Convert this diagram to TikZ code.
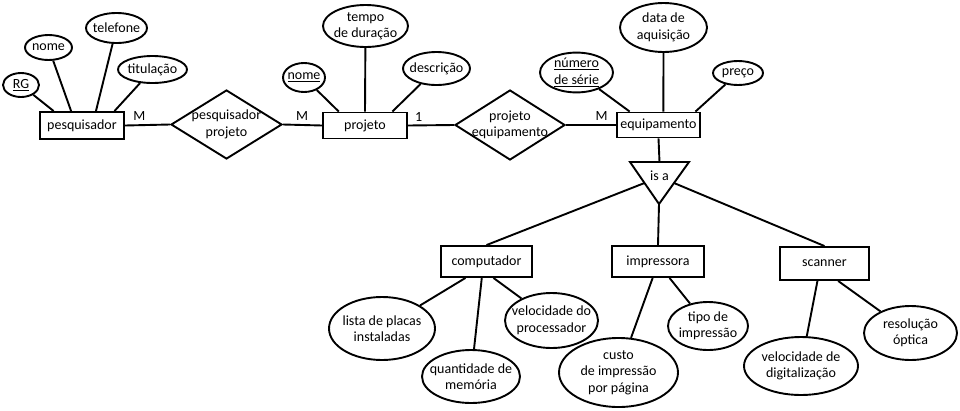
\documentclass[tikz,border=0pt]{standalone}
\usepackage{fontspec}
\setmainfont{Carlito}
\usetikzlibrary{shapes.geometric}

\begin{document}
\begin{tikzpicture}[x=1pt,y=-1pt,
  every node/.style={font=\fontsize{14}{16.5}\selectfont, align=center},
  entity/.style={draw, line width=1.9pt, rectangle, inner sep=0pt},
  attrib/.style={draw, line width=1.9pt, ellipse, inner xsep=-15pt, inner ysep=0pt},
  relation/.style={draw, line width=1.9pt, diamond, inner xsep=-20pt, inner ysep=-4pt,
    minimum width=111pt, minimum height=69pt},
  link/.style={line width=1.9pt}]

\useasboundingbox (0,0) rectangle (960,410);

% entidades
\node[entity, minimum width=84pt, minimum height=27pt] (pesquisador) at (82,125.5) {pesquisador};
\node[entity, minimum width=84pt, minimum height=26pt] (projeto) at (365,125.5) {projeto};
\node[entity, minimum width=83pt, minimum height=25pt] (equipamento) at (658.5,125) {equipamento};
\node[entity, minimum width=91pt, minimum height=31pt] (computador) at (486.5,261.5) {computador};
\node[entity, minimum width=92pt, minimum height=31pt] (impressora) at (658,261.5) {impressora};
\node[entity, minimum width=89pt, minimum height=33pt] (scanner) at (824.5,263.5) {scanner};

% relacionamentos
\node[relation] (pesqproj) at (226.5,124.5) {pesquisador\\projeto};
\node[relation, minimum width=110pt, minimum height=70pt] (projequip) at (510,125) {projeto\\equipamento};

% atributos
\node[attrib, minimum width=36pt, minimum height=24pt] (rg) at (21,85) {\underline{RG}};
\node[attrib, minimum width=47pt, minimum height=25pt] (nomepesq) at (48.5,47.5) {nome};
\node[attrib, minimum width=61pt, minimum height=30pt] (telefone) at (116.5,28) {telefone};
\node[attrib, minimum width=69pt, minimum height=27pt] (titulacao) at (152.5,69.5) {titulação};

\node[attrib, minimum width=42pt, minimum height=29pt] (nomeproj) at (304,77.5) {\underline{nome}};
\node[attrib, minimum width=85pt, minimum height=42pt] (tempo) at (365.5,26) {tempo\\de duração};
\node[attrib, minimum width=67pt, minimum height=33pt] (descricao) at (436.5,68.5) {descrição};

\node[attrib, minimum width=73pt, minimum height=39pt] (numero) at (576.5,72.5) {\underline{número}\\\underline{de série}};
\node[attrib, minimum width=87pt, minimum height=49pt] (data) at (663.5,27.5) {data de\\aquisição};
\node[attrib, minimum width=50pt, minimum height=24pt] (preco) at (738,73) {preço};

\node[attrib, minimum width=106pt, minimum height=63pt] (lista) at (382,328.5) {lista de placas\\instaladas};
\node[attrib, minimum width=98pt, minimum height=53pt] (memoria) at (471,376.5) {quantidade de\\memória};
\node[attrib, minimum width=93pt, minimum height=55pt] (velproc) at (551.5,320.5) {velocidade do\\processador};

\node[attrib, minimum width=119pt, minimum height=69pt] (custo) at (618.5,372.5) {custo\\de impressão\\por página};
\node[attrib, minimum width=80pt, minimum height=48pt] (tipo) at (708,326) {tipo de\\impressão};

\node[attrib, minimum width=114pt, minimum height=58pt] (veldig) at (801,366) {velocidade de\\digitalização};
\node[attrib, minimum width=93pt, minimum height=54pt] (resolucao) at (910.5,333) {resolução\\óptica};

% generalizacao
\coordinate (isaL) at (630,162);
\coordinate (isaR) at (689,162);
\coordinate (isaB) at (659,204);
\coordinate (isaT) at (659.5,162);
\coordinate (isaLm) at (644.5,183);
\coordinate (isaRm) at (674,183);
\draw[link, line join=miter] (isaL) -- (isaR) -- (isaB) -- cycle;
\node (isa) at (659.5,176) {is a};

% ligacoes
\draw[link] (pesquisador.east) -- node[pos=0.32, above] {M} (pesqproj.west);
\draw[link] (pesqproj.east) -- node[pos=0.49, above] {M} (projeto.west);
\draw[link] (projeto.east) -- node[pos=0.23, above] {1} (projequip.west);
\draw[link] (projequip.east) -- node[pos=0.71, above] {M} (equipamento.west);

\draw[link] (rg) -- (pesquisador.153);
\draw[link] (nomepesq) -- (pesquisador.127);
\draw[link] (telefone) -- (pesquisador.46);
\draw[link] (titulacao) -- (pesquisador.24);

\draw[link] (nomeproj) -- (projeto.152);
\draw[link] (tempo) -- (projeto.north);
\draw[link] (descricao) -- (projeto.27);

\draw[link] (numero) -- (equipamento.155);
\draw[link] (data) -- (equipamento.70);
\draw[link] (preco) -- (equipamento.20);

\draw[link] (equipamento.south) -- (isaT);
\draw[link] (isaLm) -- (computador.north);
\draw[link] (isaB) -- (impressora.north);
\draw[link] (isaRm) -- (scanner.north);

\draw[link] (lista) -- (computador.218);
\draw[link] (memoria) -- (computador.254);
\draw[link] (velproc) -- (computador.293);

\draw[link] (custo) -- (impressora.252);
\draw[link] (tipo) -- (impressora.305);

\draw[link] (veldig) -- (scanner.248);
\draw[link] (resolucao) -- (scanner.308);
\end{tikzpicture}
\end{document}
